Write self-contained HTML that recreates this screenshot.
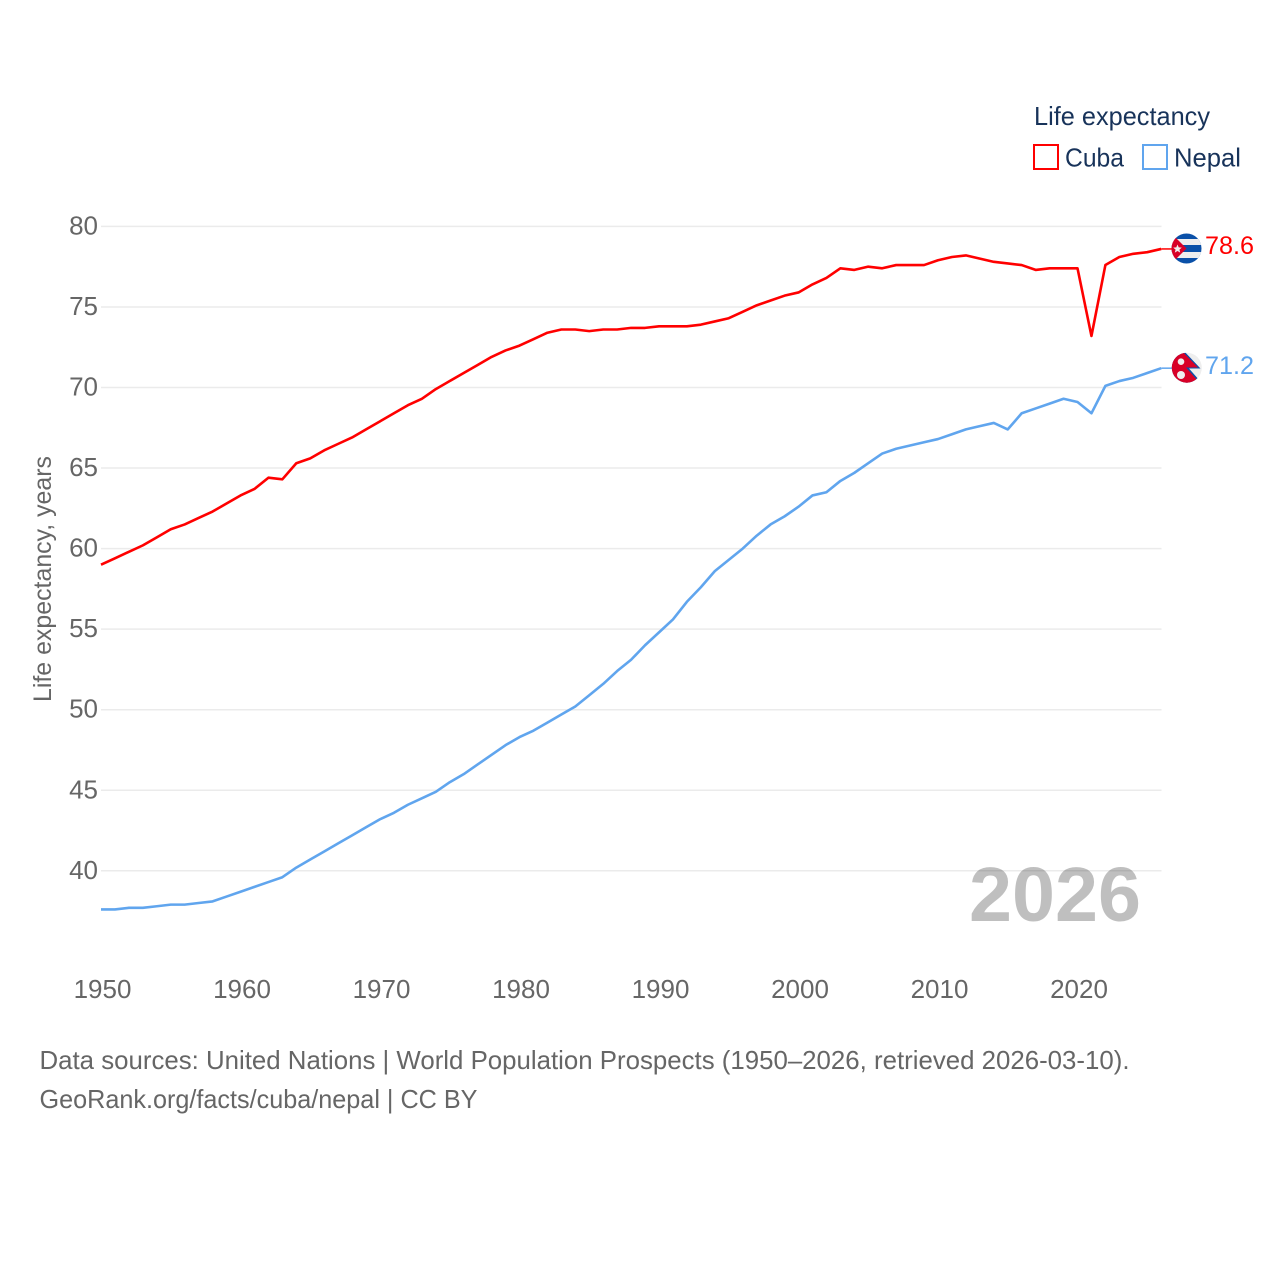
<!DOCTYPE html>
<html lang="en">
<head>
<meta charset="utf-8">
<title>Life expectancy: Cuba and Nepal</title>
<style>
html,body{margin:0;padding:0;background:#fff;}
svg{display:block;}
text{font-family:"Liberation Sans",sans-serif;}
</style>
</head>
<body>
<svg id="chart" xmlns="http://www.w3.org/2000/svg" width="1280" height="1280" viewBox="0 0 1280 1280">
  <defs>
    <clipPath id="cuba-clip"><circle cx="1186.5" cy="248.5" r="15"/></clipPath>
    <clipPath id="nepal-clip"><circle cx="1186.8" cy="367.7" r="15"/></clipPath>
  </defs>
  <rect x="0" y="0" width="1280" height="1280" fill="#fff"/>
  <g id="grid"></g>
  <g id="yticks"></g>
  <g id="xticks"></g>
  <text transform="translate(51,579) rotate(-90)" text-anchor="middle" font-size="25" fill="#666" textLength="246" lengthAdjust="spacingAndGlyphs">Life expectancy, years</text>
  <text x="969" y="921" font-size="77" font-weight="bold" fill="#000" fill-opacity="0.25" textLength="172" lengthAdjust="spacingAndGlyphs">2026</text>
  <g id="series"></g>

  <g clip-path="url(#cuba-clip)">
    <rect x="1171" y="233" width="31" height="31" fill="#0a50a8"/>
    <rect x="1171" y="239" width="31" height="6" fill="#eeeeee"/>
    <rect x="1171" y="252" width="31" height="6" fill="#eeeeee"/>
    <polygon points="1171,233 1186.5,248.5 1171,264" fill="#d80027"/>
    <polygon points="1177.5,244.5 1178.7,247.4 1181.8,247.6 1179.4,249.6 1180.2,252.6 1177.5,251 1174.8,252.6 1175.6,249.6 1173.2,247.6 1176.3,247.4" fill="#eee"/>
  </g>
  <g clip-path="url(#nepal-clip)">
    <rect x="1171" y="352" width="32" height="32" fill="#eeeeee"/>
    <polygon points="1171,350 1183,350 1200.5,368.5 1189,368.5 1200,381 1200,386 1171,386" fill="#0a50a8"/>
    <polygon points="1171,350 1181,350 1198,367.5 1186,367.5 1198,381 1198,386 1171,386" fill="#d80027"/>
    <circle cx="1181" cy="361.7" r="3.3" fill="#eee"/>
    <circle cx="1181" cy="375" r="4" fill="#eee"/>
  </g>

  <text x="1205" y="254" font-size="25" fill="#ff0000" textLength="49" lengthAdjust="spacingAndGlyphs">78.6</text>
  <text x="1205" y="374" font-size="25" fill="#60a5ee" textLength="49" lengthAdjust="spacingAndGlyphs">71.2</text>

  <g>
    <text x="1034" y="125" font-size="26" fill="#18335a" textLength="176" lengthAdjust="spacingAndGlyphs">Life expectancy</text>
    <g>
      <rect x="1034" y="145" width="24" height="24" fill="#fff" stroke="#ff0000" stroke-width="2"/>
      <text x="1065" y="166.5" font-size="26" fill="#18335a" textLength="59" lengthAdjust="spacingAndGlyphs">Cuba</text>
    </g>
    <g>
      <rect x="1143" y="145" width="24" height="24" fill="#fff" stroke="#60a5ee" stroke-width="2"/>
      <text x="1174" y="166.5" font-size="26" fill="#18335a" textLength="67" lengthAdjust="spacingAndGlyphs">Nepal</text>
    </g>
  </g>

  <text x="39.5" y="1069" font-size="26" fill="#666" textLength="1090" lengthAdjust="spacingAndGlyphs">Data sources: United Nations | World Population Prospects (1950–2026, retrieved 2026-03-10).</text>
  <text x="39.5" y="1108" font-size="26" fill="#666" textLength="438" lengthAdjust="spacingAndGlyphs">GeoRank.org/facts/cuba/nepal | CC BY</text>
</svg>
<script>
const startYear = 1950;
const yTickLabels = [40, 45, 50, 55, 60, 65, 70, 75, 80];
const xTickLabels = [1950, 1960, 1970, 1980, 1990, 2000, 2010, 2020];
const cubaValues = [59.0,59.4,59.8,60.2,60.7,61.2,61.5,61.9,62.3,62.8,63.3,63.7,64.4,64.3,65.3,65.6,66.1,66.5,66.9,67.4,67.9,68.4,68.9,69.3,69.9,70.4,70.9,71.4,71.9,72.3,72.6,73.0,73.4,73.6,73.6,73.5,73.6,73.6,73.7,73.7,73.8,73.8,73.8,73.9,74.1,74.3,74.7,75.1,75.4,75.7,75.9,76.4,76.8,77.4,77.3,77.5,77.4,77.6,77.6,77.6,77.9,78.1,78.2,78.0,77.8,77.7,77.6,77.3,77.4,77.4,77.4,73.2,77.6,78.1,78.3,78.4,78.6];
const nepalValues = [37.6,37.6,37.7,37.7,37.8,37.9,37.9,38.0,38.1,38.4,38.7,39.0,39.3,39.6,40.2,40.7,41.2,41.7,42.2,42.7,43.2,43.6,44.1,44.5,44.9,45.5,46.0,46.6,47.2,47.8,48.3,48.7,49.2,49.7,50.2,50.9,51.6,52.4,53.1,54.0,54.8,55.6,56.7,57.6,58.6,59.3,60.0,60.8,61.5,62.0,62.6,63.3,63.5,64.2,64.7,65.3,65.9,66.2,66.4,66.6,66.8,67.1,67.4,67.6,67.8,67.4,68.4,68.7,69.0,69.3,69.1,68.4,70.1,70.4,70.6,70.9,71.2];

const NS = 'http://www.w3.org/2000/svg';
const xScale = function (year) { return 101 + (year - 1950) * 13.95; };
const yScale = function (value) { return 870.8 - (value - 40) * 16.11; };

function make(tag, attrs, parent) {
  const el = document.createElementNS(NS, tag);
  Object.keys(attrs).forEach(function (k) { el.setAttribute(k, attrs[k]); });
  parent.appendChild(el);
  return el;
}

const gridGroup = document.getElementById('grid');
const yGroup = document.getElementById('yticks');
const xGroup = document.getElementById('xticks');
const seriesGroup = document.getElementById('series');

yTickLabels.forEach(function (v) {
  const line = make('line', {x1: 101, x2: 1161.5, y1: yScale(v), y2: yScale(v), stroke: '#ebebeb', 'stroke-width': 1.5}, gridGroup);
  
  
  const label = make('text', {x: 98, y: yScale(v) + 8, 'text-anchor': 'end', 'font-size': 26, fill: '#666'}, yGroup);
  
  
  label.textContent = v;
});

xTickLabels.forEach(function (y) {
  const label = make('text', {x: xScale(y) + 1.5, y: 998, 'text-anchor': 'middle', 'font-size': 26, fill: '#666'}, xGroup);
  
  
  label.textContent = y;
});

function linePath(values) {
  return values.map(function (v, i) {
    return (i ? 'L' : 'M') + xScale(startYear + i).toFixed(2) + ' ' + yScale(v).toFixed(2);
  }).join(' ');
}

function connectorPath(values) {
  const last = values.length - 1;
  return 'M' + xScale(startYear + last).toFixed(2) + ' ' + yScale(values[last]).toFixed(2) + ' H1174';
}

const cubaConnector = make('path', {d: connectorPath(cubaValues), fill: 'none', stroke: '#ff0000', 'stroke-width': 1.5}, seriesGroup);



const nepalConnector = make('path', {d: connectorPath(nepalValues), fill: 'none', stroke: '#60a5ee', 'stroke-width': 1.5}, seriesGroup);



const cubaLine = make('path', {d: linePath(cubaValues), fill: 'none', stroke: '#ff0000', 'stroke-width': 2.6, 'stroke-linejoin': 'round'}, seriesGroup);



const nepalLine = make('path', {d: linePath(nepalValues), fill: 'none', stroke: '#60a5ee', 'stroke-width': 2.6, 'stroke-linejoin': 'round'}, seriesGroup);


</script>
</body>
</html>
